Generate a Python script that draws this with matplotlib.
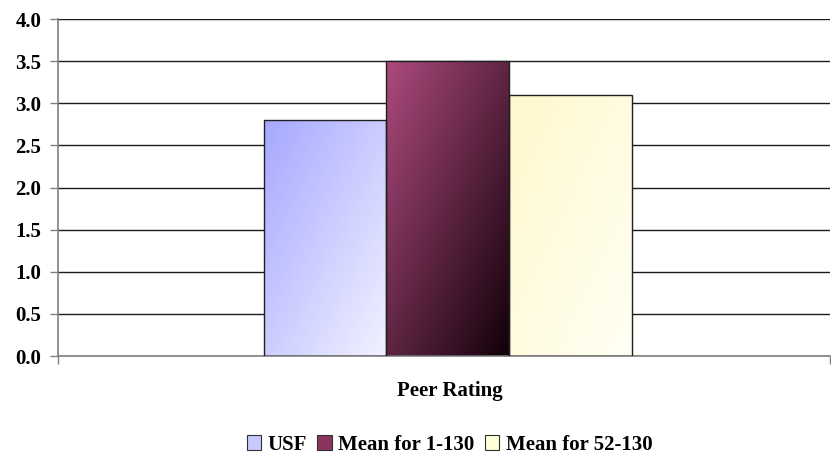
import numpy as np
import matplotlib.pyplot as plt
from matplotlib.colors import LinearSegmentedColormap
from matplotlib.patches import Patch

# ---- Data ----
category = "Peer Rating"
series = ["USF", "Mean for 1-130", "Mean for 52-130"]
values = [2.8, 3.5, 3.1]

# gradient stops per bar: top-left colour -> bottom-right colour
grad_stops = [
    ("#a6a8ff", "#f2f2ff"),
    ("#ad4a7d", "#12000a"),
    ("#fff8cc", "#fffff4"),
]
legend_colors = ["#c8caff", "#8a3560", "#ffffd8"]

plt.rcParams['font.family'] = ['Liberation Serif', 'DejaVu Serif']
plt.rcParams['font.weight'] = 'bold'
FS = 15

fig = plt.figure(figsize=(8.31, 4.66), dpi=100)
ax = fig.add_axes([0.0698, 0.236, 0.929, 0.723])

bar_w = 0.159
x = (np.arange(len(values)) - 1) * bar_w + 0.005

# diagonal gradient image, clipped to each bar
gy, gx = np.mgrid[0:1:200j, 0:1:200j]
diag = (gx + gy) / 2.0
for xi, v, (c0, c1) in zip(x, values, grad_stops):
    cmap = LinearSegmentedColormap.from_list("g", [c0, c1])
    bars = ax.bar(xi, v, width=bar_w, color="none", edgecolor="#202020",
                  linewidth=1.0, zorder=3)
    im = ax.imshow(diag, cmap=cmap, aspect="auto", origin="upper",
                   extent=[xi - bar_w / 2, xi + bar_w / 2, 0, v],
                   zorder=2, interpolation="bilinear")
    im.set_clip_path(bars[0])

ax.set_xlim(-0.5, 0.5)
ax.set_ylim(0, 4.0)

yt = np.arange(0, 4.01, 0.5)
ax.set_yticks(yt)
ax.set_yticklabels([f"{t:.1f}" for t in yt], fontsize=FS, fontweight='bold')
ax.yaxis.grid(True, color="#1a1a1a", linewidth=1.0, zorder=0)
ax.set_axisbelow(True)

ax.set_xticks([-0.5, 0.5])
ax.set_xticklabels([])
ax.tick_params(axis='both', direction='out', length=6, color="#808080", width=1)
ax.tick_params(axis='y', pad=6)

for s in ["top", "right"]:
    ax.spines[s].set_visible(False)
for s in ["left", "bottom"]:
    ax.spines[s].set_color("#808080")
    ax.spines[s].set_linewidth(1.2)

fig.text(0.541, 0.16, category, ha="center", va="center", fontsize=FS,
         fontweight='bold')

handles = [Patch(facecolor=c, edgecolor="#303030", linewidth=0.8)
           for c in legend_colors]
fig.legend(handles, series, loc="center", bbox_to_anchor=(0.541, 0.045),
           ncol=3, frameon=False, handlelength=0.7, handleheight=0.7,
           handletextpad=0.3, columnspacing=0.5,
           prop={'weight': 'bold', 'size': FS})

fig.savefig("out.png", dpi=100)
